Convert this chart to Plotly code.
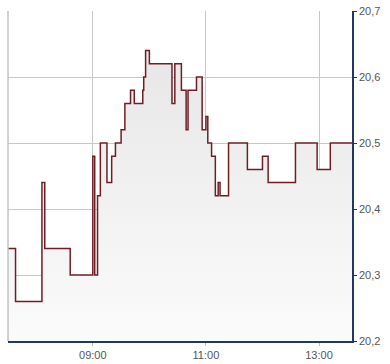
import plotly.graph_objects as go

DAY = "2024-01-02 "
times = ["07:30", "07:38", "08:06", "08:09", "08:36", "09:00", "09:02", "09:05", "09:08",
         "09:15", "09:20", "09:24", "09:30", "09:34", "09:40", "09:44", "09:53", "09:54",
         "09:56", "10:00", "10:24", "10:27", "10:34", "10:39", "10:41", "10:50", "10:56",
         "11:00", "11:02", "11:06", "11:10", "11:13", "11:15", "11:24", "11:44", "12:00",
         "12:06", "12:35", "12:58", "13:12", "13:35"]
prices = [20.34, 20.26, 20.44, 20.34, 20.30, 20.48, 20.30, 20.42, 20.50,
          20.44, 20.48, 20.50, 20.52, 20.56, 20.58, 20.56, 20.58, 20.60,
          20.64, 20.62, 20.56, 20.62, 20.58, 20.52, 20.58, 20.60, 20.52,
          20.54, 20.50, 20.48, 20.42, 20.44, 20.42, 20.50, 20.46, 20.48,
          20.44, 20.50, 20.46, 20.50, 20.50]

x_tick_vals = ["09:00", "11:00", "13:00"]
y_tick_vals = [20.2, 20.3, 20.4, 20.5, 20.6, 20.7]
y_tick_text = ["20,2", "20,3", "20,4", "20,5", "20,6", "20,7"]

xs = [DAY + t for t in times]

fig = go.Figure()
fig.add_trace(go.Scatter(
    x=xs, y=prices, mode="lines", line=dict(shape="hv", color="#6e1f26", width=1.5),
    fill="tozeroy",
    fillgradient=dict(type="vertical", start=20.2, stop=20.7,
                      colorscale=[[0, "#fbfbfb"], [1, "#e4e4e4"]]),
    hoverinfo="skip",
))

axis_font = dict(family="Liberation Sans, Arial, sans-serif", size=11, color="#555555")

fig.update_layout(
    width=390, height=364,
    margin=dict(l=8, r=38, t=11, b=23),
    paper_bgcolor="white", plot_bgcolor="white",
    showlegend=False,
    xaxis=dict(
        range=[DAY + "07:30", DAY + "13:35"],
        tickvals=[DAY + t for t in x_tick_vals], ticktext=x_tick_vals,
        showgrid=True, gridcolor="#c8c8c8", gridwidth=1,
        showline=True, linecolor="#1f3864", linewidth=1.5,
        ticks="outside", ticklen=3, tickcolor="#c0c0c0",
        tickfont=axis_font, zeroline=False, fixedrange=True, automargin=False,
    ),
    yaxis=dict(
        range=[20.2, 20.7], side="right",
        tickvals=y_tick_vals, ticktext=y_tick_text,
        showgrid=True, gridcolor="#c8c8c8", gridwidth=1,
        showline=True, linecolor="#1f3864", linewidth=1.5,
        ticks="outside", ticklen=3, tickcolor="#333333",
        tickfont=axis_font, zeroline=False, fixedrange=True, automargin=False,
    ),
    shapes=[dict(type="line", xref="paper", yref="paper", x0=0, x1=0, y0=0, y1=1,
                 line=dict(color="#c0c0c0", width=1.5), layer="above")],
)

fig.write_html("out.html")
